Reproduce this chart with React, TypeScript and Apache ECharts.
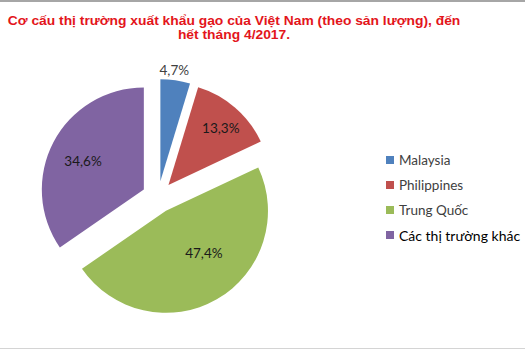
import React, { useEffect, useRef } from "react";
import * as echarts from "echarts";

const TITLE_LINES = [
  "Cơ cấu thị trường xuất khẩu gạo của Việt Nam (theo sản lượng), đến",
  "hết tháng 4/2017.",
];
const categories = ["Malaysia", "Philippines", "Trung Quốc", "Các thị trường khác"];
const shares = [4.7, 13.3, 47.4, 34.6];
const colors = ["#4F81BD", "#C0504D", "#9BBB59", "#8064A2"];

export default function App() {
  const ref = useRef<HTMLDivElement>(null);
  useEffect(() => {
    document.body.style.margin = "0";
    if (!ref.current) return;
    const chart = echarts.init(ref.current, null, { renderer: "svg" });
    const labelShift = [
      [6, -58],
      [17, -16],
      [11, -5],
      [-13, -3],
    ];
    const data = categories.map((name, i) => ({
      name,
      value: shares[i],
      selected: true,
      itemStyle: { color: colors[i] },
      label: { color: i === 0 ? "#404040" : "#1a1a1a" },
    }));
    chart.setOption({
      animation: false,
      backgroundColor: "#ffffff",
      graphic: [
        { type: "rect", shape: { x: 0, y: 0, width: 525, height: 2 }, style: { fill: "#a6a6a6" } },
        { type: "rect", shape: { x: 0, y: 348, width: 525, height: 1 }, style: { fill: "#d4d4d4" } },
        {
          type: "text",
          x: 234,
          y: 14,
          scaleX: 1.025,
          style: {
            text: TITLE_LINES.join("\n"),
            align: "center",
            verticalAlign: "top",
            fill: "#e3151b",
            font: "bold 13.5px 'Liberation Sans', Arial, sans-serif",
            lineHeight: 13.5,
          },
        },
      ],
      legend: {
        orient: "vertical",
        left: 381,
        top: 148,
        icon: "rect",
        itemWidth: 8,
        itemHeight: 8,
        itemGap: 11,
        selectedMode: false,
        data: categories.map((name, i) => ({
          name,
          textStyle:
            i === 3
              ? { fontSize: 14, color: "#000000", lineHeight: 14 }
              : { fontSize: 13.5, color: "#404040", lineHeight: 14 },
        })),
        textStyle: { fontFamily: "Lato, 'Open Sans', sans-serif", fontSize: 13.5 },
      },
      series: [
        {
          type: "pie",
          center: [158, 197],
          radius: 102,
          startAngle: 90,
          clockwise: true,
          selectedMode: "multiple",
          selectedOffset: 16,
          select: { disabled: false, itemStyle: {} },
          emphasis: { disabled: true },
          label: {
            show: true,
            position: "inside",
            fontFamily: "Lato, 'Open Sans', sans-serif",
            fontSize: 13.5,
            formatter: (p: any) => p.value.toFixed(1).replace(".", ",") + "%",
          },
          labelLine: { show: false },
          labelLayout: (p: any) => {
            const s = labelShift[p.dataIndex] || [0, 0];
            return { dx: s[0], dy: s[1] };
          },
          data,
        },
      ],
    });
    return () => chart.dispose();
  }, []);
  return <div ref={ref} style={{ width: 525, height: 350 }} />;
}
